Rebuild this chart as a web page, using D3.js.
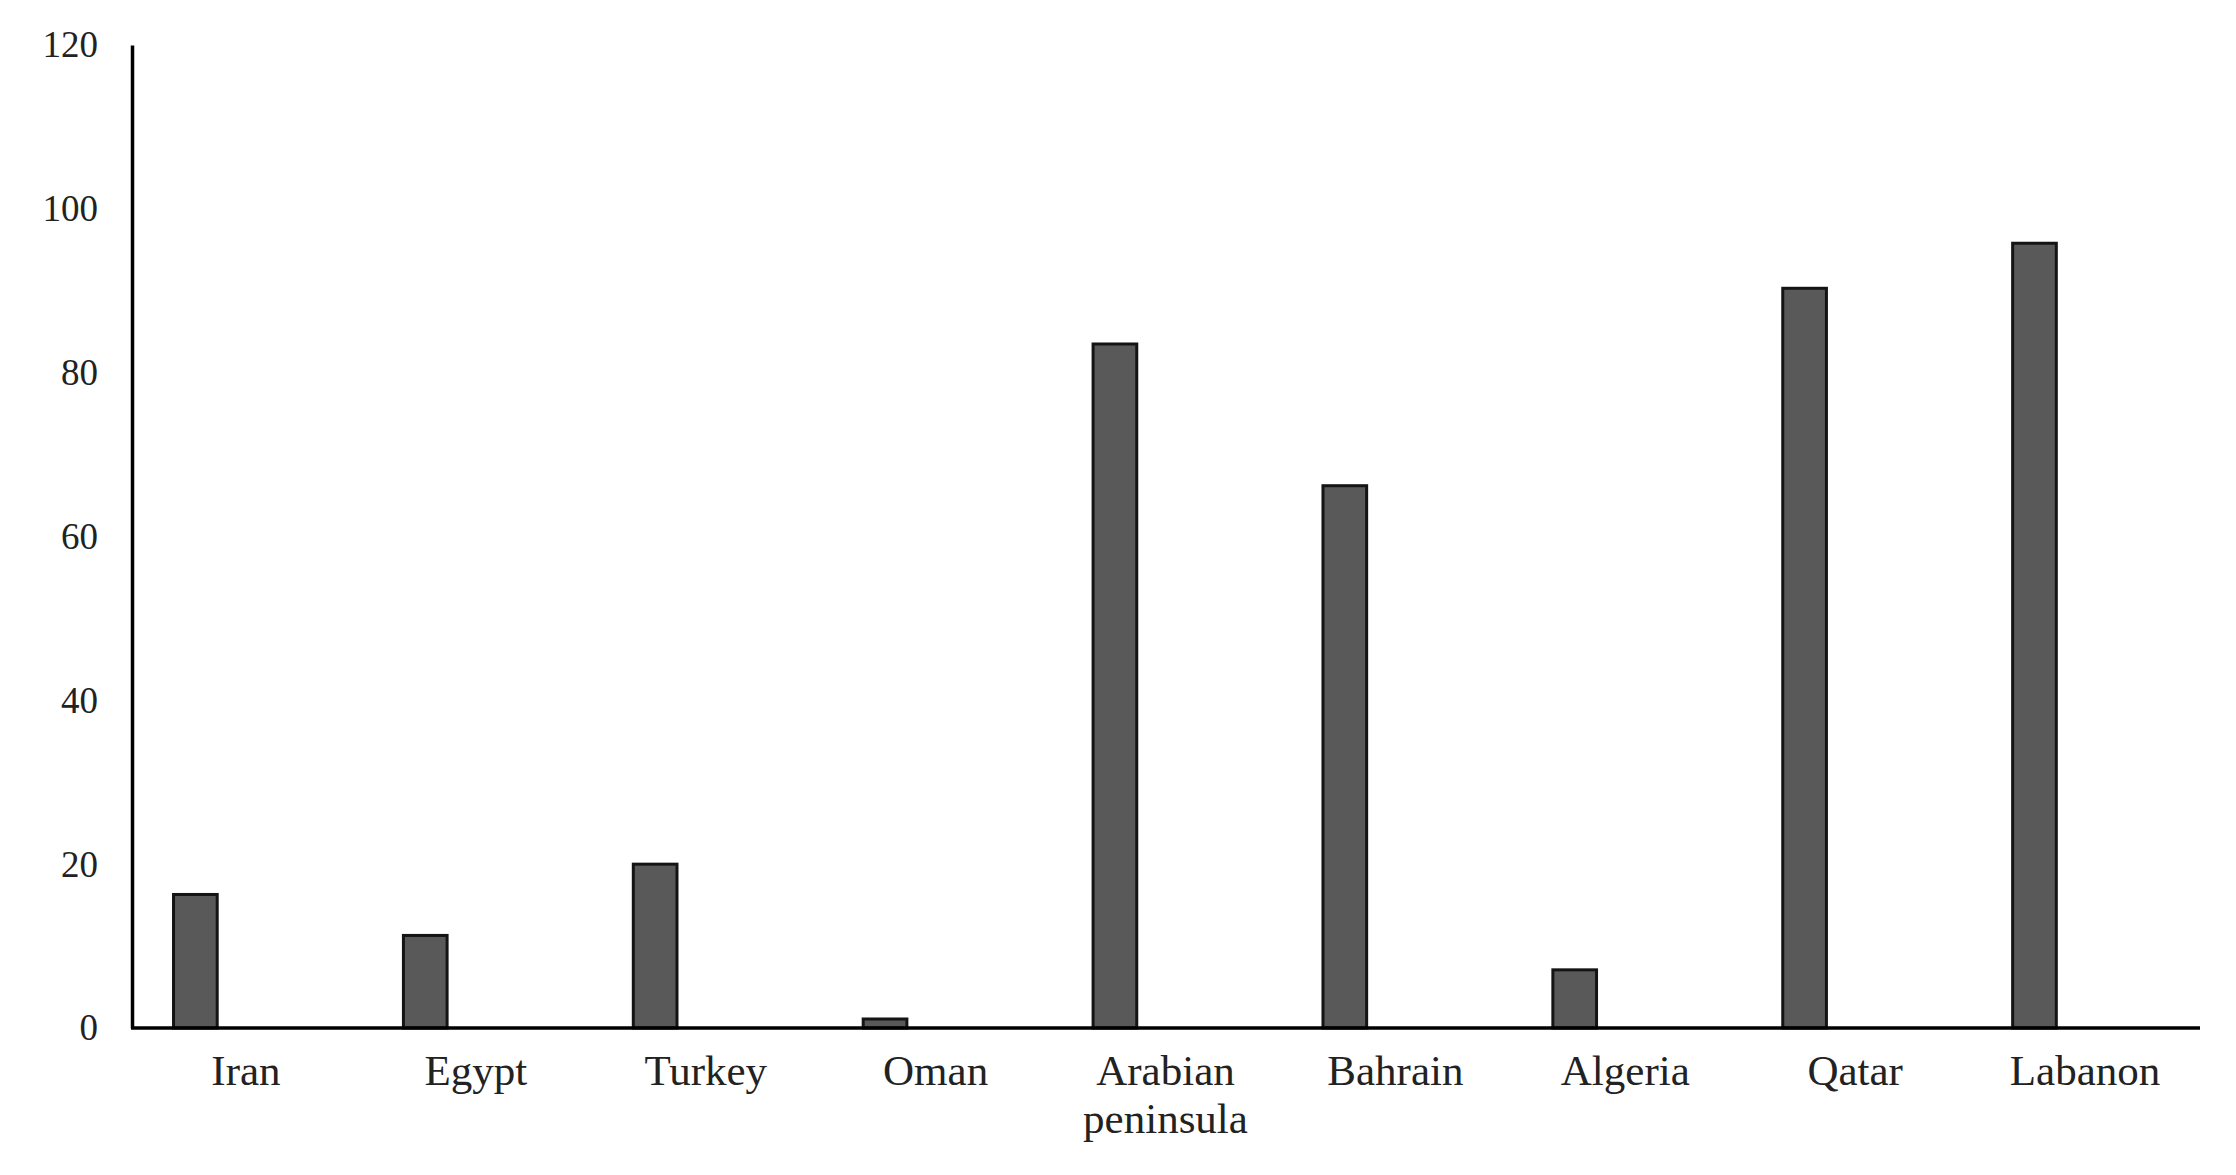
<!DOCTYPE html>
<html>
<head>
<meta charset="utf-8">
<script src="https://cdn.jsdelivr.net/npm/d3@7"></script>
<style>
  html, body { margin: 0; padding: 0; background: #ffffff; }
  svg { display: block; }
</style>
</head>
<body>
<script>
const categories = ["Iran", "Egypt", "Turkey", "Oman", "Arabian peninsula", "Bahrain", "Algeria", "Qatar", "Labanon"];
const values = [16.3, 11.3, 20, 1.1, 83.5, 66.2, 7.1, 90.3, 95.8];
const yTicks = [0, 20, 40, 60, 80, 100, 120];

const W = 2236, H = 1175;
const svg = d3.select("body").append("svg").attr("width", W).attr("height", H);

const x = d3.scaleBand().domain(categories).range([131, 2200]).paddingInner(0).paddingOuter(0);
const y = d3.scaleLinear().domain([0, 120]).range([1028, 45]);

// bars
svg.append("g").selectAll("rect")
  .data(categories.map((c, i) => ({ c, v: values[i] })))
  .join("rect")
  .attr("x", d => x(d.c) + x.bandwidth() * 0.185)
  .attr("width", x.bandwidth() * 0.19)
  .attr("y", d => y(d.v))
  .attr("height", d => y(0) - y(d.v))
  .attr("fill", "#595959")
  .attr("stroke", "#141414")
  .attr("stroke-width", 3);

// y axis
const yAxis = d3.axisLeft(y).tickValues(yTicks).tickSize(0).tickPadding(34);
const gy = svg.append("g").attr("transform", "translate(132,0)").call(yAxis);
gy.select(".domain").attr("stroke", "#000").attr("stroke-width", 3.5);
gy.selectAll("text")
  .attr("font-family", "'Liberation Serif', 'Times New Roman', serif")
  .attr("font-size", 37)
  .attr("fill", "#222");

// x axis
const xAxis = d3.axisBottom(x).tickSize(0).tickPadding(0);
const gx = svg.append("g").attr("transform", "translate(0,1028)").call(xAxis);
gx.select(".domain").attr("stroke", "#000").attr("stroke-width", 3.5).attr("d", "M131,0H2200");
gx.selectAll(".tick text").each(function(d) {
  const t = d3.select(this);
  t.text(null)
    .attr("font-family", "'Liberation Serif', 'Times New Roman', serif")
    .attr("font-size", 43)
    .attr("fill", "#222")
    .attr("y", 0)
    .attr("dy", null);
  const words = d.split(" ");
  words.forEach((w, i) => {
    t.append("tspan").attr("x", 0).attr("y", 57 + i * 48).text(w);
  });
});
</script>
</body>
</html>
